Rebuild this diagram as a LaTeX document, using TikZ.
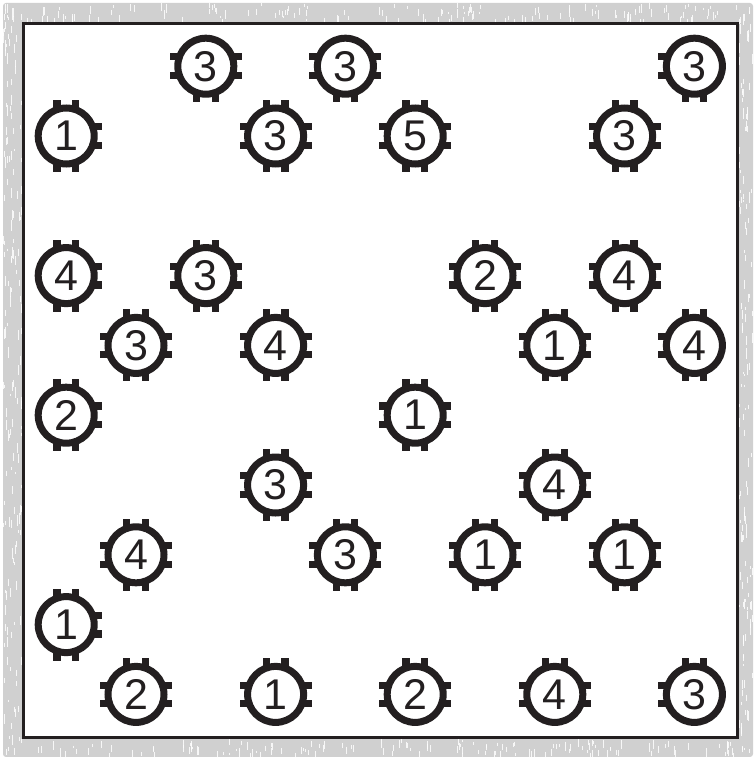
\documentclass[tikz,border=0pt]{standalone}
\usepackage{fontspec}
\setmainfont{Liberation Sans}
\definecolor{ink}{RGB}{35,31,32}
\definecolor{bandgrey}{RGB}{208,208,208}
\newcommand\isl[3]{%
  \node[island] (n#1#2) at ({66.2+69.8*#1},{66.2+69.8*#2}) {#3};
  \ifnum#2>0 \foreach \s in {-9.3,9.3}{\fill[tooth] ([shift={(\s-3.6,-36)}]n#1#2.center) rectangle ([shift={(\s+3.6,-27)}]n#1#2.center);}\fi
  \ifnum#2<9 \foreach \s in {-9.3,9.3}{\fill[tooth] ([shift={(\s-3.6,27)}]n#1#2.center) rectangle ([shift={(\s+3.6,36)}]n#1#2.center);}\fi
  \ifnum#1>0 \foreach \s in {-9.3,9.3}{\fill[tooth] ([shift={(-36,\s-3.6)}]n#1#2.center) rectangle ([shift={(-27,\s+3.6)}]n#1#2.center);}\fi
  \ifnum#1<9 \foreach \s in {-9.3,9.3}{\fill[tooth] ([shift={(27,\s-3.6)}]n#1#2.center) rectangle ([shift={(36,\s+3.6)}]n#1#2.center);}\fi
}
\begin{document}
\begin{tikzpicture}[x=1pt,y=-1pt,
  island/.style={circle,draw=ink,line width=7pt,minimum size=56pt,inner sep=0pt,fill=white,
    font=\fontsize{43}{43}\selectfont,text=ink},
  tooth/.style={fill=ink},
  streak/.style={white,line width=0.8pt,opacity=0.85}]
\useasboundingbox (0,0) rectangle (753,757);
\fill[white] (0,0) rectangle (753,757);
\fill[bandgrey,rounded corners=3pt] (3,3) rectangle (753,757);
\pgfmathsetseed{42}
\foreach \i in {1,...,160}{
  \pgfmathsetmacro\xa{3+rnd*19}\pgfmathsetmacro\ya{3+rnd*745}\pgfmathsetmacro\ln{2+rnd*9}
  \draw[streak] (\xa,\ya) -- ++(0,\ln);}
\foreach \i in {1,...,130}{
  \pgfmathsetmacro\xa{738+rnd*15}\pgfmathsetmacro\ya{3+rnd*745}\pgfmathsetmacro\ln{2+rnd*9}
  \draw[streak] (\xa,\ya) -- ++(0,\ln);}
\foreach \i in {1,...,150}{
  \pgfmathsetmacro\xa{3+rnd*748}\pgfmathsetmacro\ya{3+rnd*16}\pgfmathsetmacro\ln{2+rnd*7}
  \draw[streak] (\xa,\ya) -- ++(0,\ln);}
\foreach \i in {1,...,150}{
  \pgfmathsetmacro\xa{3+rnd*748}\pgfmathsetmacro\ya{739+rnd*14}\pgfmathsetmacro\ln{2+rnd*7}
  \draw[streak] (\xa,\ya) -- ++(0,\ln);}
\draw[ink,line width=3.3pt,fill=white] (23.3,23.3) rectangle (737.5,737.5);
% row 0
\isl{2}{0}{3}\isl{4}{0}{3}\isl{9}{0}{3}
% row 1
\isl{0}{1}{1}\isl{3}{1}{3}\isl{5}{1}{5}\isl{8}{1}{3}
% row 3
\isl{0}{3}{4}\isl{2}{3}{3}\isl{6}{3}{2}\isl{8}{3}{4}
% row 4
\isl{1}{4}{3}\isl{3}{4}{4}\isl{7}{4}{1}\isl{9}{4}{4}
% row 5
\isl{0}{5}{2}\isl{5}{5}{1}
% row 6
\isl{3}{6}{3}\isl{7}{6}{4}
% row 7
\isl{1}{7}{4}\isl{4}{7}{3}\isl{6}{7}{1}\isl{8}{7}{1}
% row 8
\isl{0}{8}{1}
% row 9
\isl{1}{9}{2}\isl{3}{9}{1}\isl{5}{9}{2}\isl{7}{9}{4}\isl{9}{9}{3}
\end{tikzpicture}
\end{document}
